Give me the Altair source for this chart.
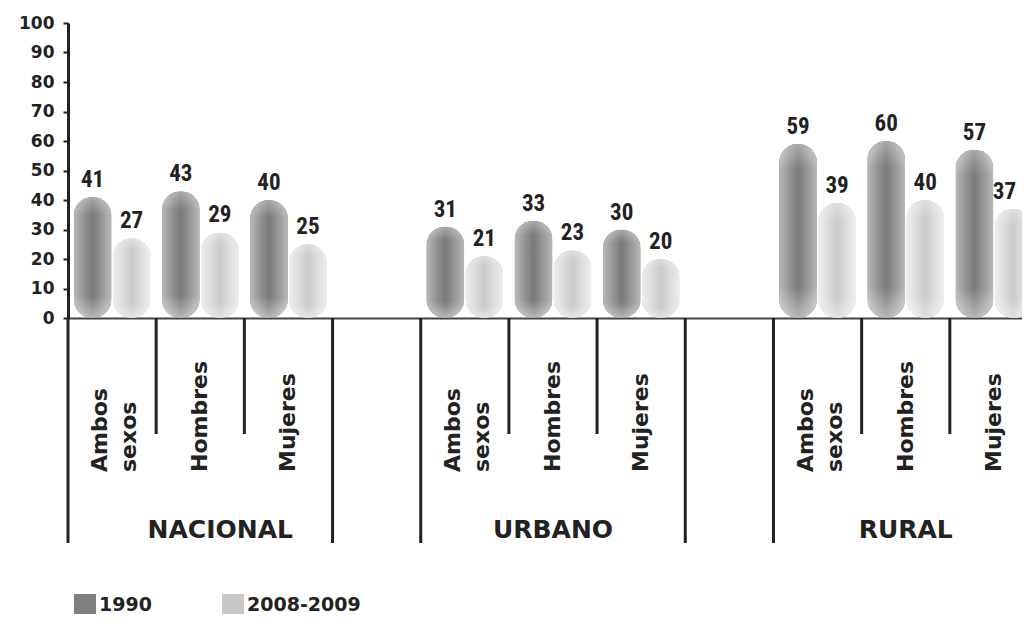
import altair as alt
import pandas as pd

# ---------------- data ----------------
groups = ["NACIONAL", "URBANO", "RURAL"]
subgroups = ["Ambos sexos", "Hombres", "Mujeres"]
series = ["1990", "2008-2009"]
values_1990 = [41, 43, 40, 31, 33, 30, 59, 60, 57]
values_2008 = [27, 29, 25, 21, 23, 20, 39, 40, 37]
y_ticks = [0, 10, 20, 30, 40, 50, 60, 70, 80, 90, 100]

# ---------------- tables ----------------
columns = []
col_kind = []
for gi, g in enumerate(groups):
    for si, s in enumerate(subgroups):
        columns.append(f"{g}|{s}")
        col_kind.append("long" if si == 0 else "short")
    if gi < len(groups) - 1:
        columns.append(f"gap{gi}")
        col_kind.append("long")

rows = []
k = 0
for g in groups:
    for s in subgroups:
        rows.append({"col": f"{g}|{s}", "serie": series[0], "value": values_1990[k]})
        rows.append({"col": f"{g}|{s}", "serie": series[1], "value": values_2008[k]})
        k += 1
bars_df = pd.DataFrame(rows)
last_col = columns[-1]

labels_df = pd.DataFrame(
    [{"col": f"{g}|{s}", "label": s.replace(" ", "\n"), "multi": " " in s}
     for g in groups for s in subgroups]
)
group_df = pd.DataFrame([{"col": f"{g}|{subgroups[1]}", "group": g} for g in groups])
sep_df = pd.DataFrame({"col": columns, "kind": col_kind})

# ---------------- styling ----------------
INK = "#222222"
FONT = "DejaVu Sans"
NARROW = "'Liberation Sans Narrow', 'Arial Narrow', 'Roboto Condensed', Roboto, sans-serif"

# the last column runs past the right edge of the picture, as in the original
x_scale = alt.Scale(domain=columns, range=[0, 970], paddingInner=0, paddingOuter=0)
x_axis = alt.Axis(title=None, labels=False, ticks=False, domainColor="#444444",
                  domainWidth=2, grid=False)
xoff_scale = alt.Scale(domain=series, paddingInner=0.026, paddingOuter=0.144)
y_scale = alt.Scale(domain=[0, 100], nice=False)
y_axis = alt.Axis(values=y_ticks, title=None, grid=False, domainWidth=3,
                  domainColor=INK, tickColor=INK, tickWidth=2, tickSize=5,
                  labelFont=FONT, labelFontWeight="bold", labelFontSize=17,
                  labelColor=INK, labelPadding=9)

X = alt.X("col:N", scale=x_scale, axis=x_axis)
XO = alt.XOffset("serie:N", scale=xoff_scale)
Y = alt.Y("value:Q", scale=y_scale, axis=y_axis)

base = alt.Chart(bars_df)

bars = base.mark_bar(cornerRadius=19).encode(
    x=X, xOffset=XO, y=Y,
    color=alt.Color(
        "serie:N",
        scale=alt.Scale(domain=series, range=["#7f7f7f", "#c8c8c8"]),
        legend=alt.Legend(
            orient="none", legendX=6, legendY=571, direction="horizontal",
            title=None, symbolType="square", symbolSize=484, symbolStrokeWidth=0,
            symbolOpacity=1, labelFont=FONT, labelFontWeight="bold",
            labelFontSize=19, labelColor=INK, columnPadding=70, labelOffset=3,
            padding=0,
        ),
    ),
)

dark_grad = alt.LinearGradient(
    gradient="linear", x1=0, x2=1, y1=0, y2=0,
    stops=[
        alt.GradientStop(color="#b9b9b9", offset=0),
        alt.GradientStop(color="#909090", offset=0.3),
        alt.GradientStop(color="#7a7a7a", offset=0.5),
        alt.GradientStop(color="#909090", offset=0.7),
        alt.GradientStop(color="#b9b9b9", offset=1),
    ],
)
light_grad = alt.LinearGradient(
    gradient="linear", x1=0, x2=1, y1=0, y2=0,
    stops=[
        alt.GradientStop(color="#eeeeee", offset=0),
        alt.GradientStop(color="#cbcbcb", offset=0.5),
        alt.GradientStop(color="#eeeeee", offset=1),
    ],
)
fade_grad = alt.LinearGradient(
    gradient="linear", x1=0, x2=0, y1=0, y2=1,
    stops=[
        alt.GradientStop(color="rgba(255,255,255,0.35)", offset=0),
        alt.GradientStop(color="rgba(255,255,255,0)", offset=0.15),
        alt.GradientStop(color="rgba(255,255,255,0)", offset=0.82),
        alt.GradientStop(color="rgba(255,255,255,0.45)", offset=1),
    ],
)

dark = base.transform_filter(alt.datum.serie == series[0]).mark_bar(
    cornerRadius=19, color=dark_grad).encode(x=X, xOffset=XO, y=Y)
light = base.transform_filter(alt.datum.serie == series[1]).mark_bar(
    cornerRadius=19, color=light_grad).encode(x=X, xOffset=XO, y=Y)
fade = base.mark_bar(cornerRadius=19, color=fade_grad).encode(x=X, xOffset=XO, y=Y)

text_style = dict(font=NARROW, fontWeight="bold", fontSize=23, color=INK,
                  baseline="alphabetic", dy=-10)
is_edge = (alt.datum.col == last_col) & (alt.datum.serie == series[1])
values = base.transform_filter(~is_edge).mark_text(**text_style).encode(
    x=X, xOffset=XO, y=Y, text=alt.Text("value:Q"))
# keep the label at the right edge inside the picture
values_edge = base.transform_filter(is_edge).mark_text(dx=-9, **text_style).encode(
    x=X, xOffset=XO, y=Y, text=alt.Text("value:Q"))

XL = alt.X("col:N", scale=x_scale, axis=x_axis, bandPosition=0)
short_sep = alt.Chart(sep_df).transform_filter(alt.datum.kind == "short").mark_rule(
    strokeWidth=3, color=INK).encode(x=XL, y=alt.value(295), y2=alt.value(411))
long_sep = alt.Chart(sep_df).transform_filter(alt.datum.kind == "long").mark_rule(
    strokeWidth=3, color=INK).encode(x=XL, y=alt.value(295), y2=alt.value(520))

label_style = dict(font=FONT, fontWeight="bold", fontSize=22, color=INK, angle=270,
                   align="left", baseline="middle", lineBreak="\n", lineHeight=29)
sub_single = alt.Chart(labels_df).transform_filter(~alt.datum.multi).mark_text(
    **label_style).encode(x=X, y=alt.value(449), text="label:N")
# two-line label: shift the block so that it is centred on its column
sub_multi = alt.Chart(labels_df).transform_filter(alt.datum.multi).mark_text(
    dy=-12, **label_style).encode(x=X, y=alt.value(449), text="label:N")

group_style = dict(font=FONT, fontWeight="bold", fontSize=25, color=INK,
                   baseline="alphabetic", align="center")
group_nac = alt.Chart(group_df).transform_filter(alt.datum.group == groups[0]).mark_text(
    dx=20, **group_style).encode(x=X, y=alt.value(515), text="group:N")
group_rest = alt.Chart(group_df).transform_filter(alt.datum.group != groups[0]).mark_text(
    **group_style).encode(x=X, y=alt.value(515), text="group:N")

chart = alt.layer(
    bars, dark, light, fade, values, values_edge, short_sep, long_sep,
    sub_single, sub_multi, group_nac, group_rest
).properties(
    width=954, height=295,
    padding={"left": 60, "top": 15, "right": 0, "bottom": 296},
    autosize=alt.AutoSizeParams(type="none"),
).configure(background="white").configure_view(stroke=None)

chart.save("out.html", embed_options={"renderer": "svg", "actions": False})
